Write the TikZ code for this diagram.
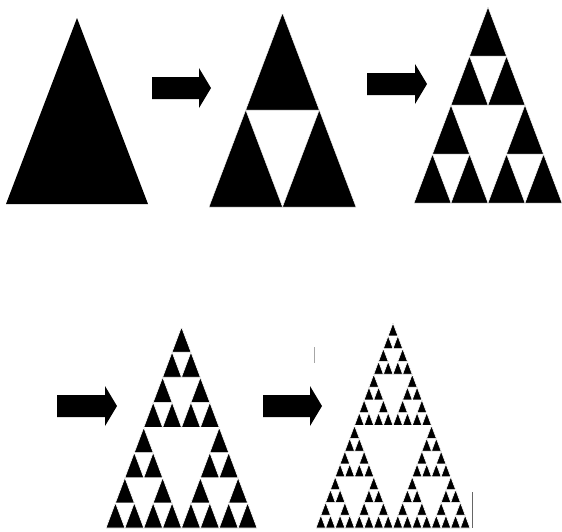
\documentclass[tikz,border=0pt]{standalone}
\tikzset{
  tri/.style={fill=black},
  bigarrow/.style={fill=black},
  artifact/.style={draw=black!60, line width=0.9pt}
}
% #1 level, #2 x of bottom-left, #3 y of bottom (pixel coords, y down), #4 width, #5 height
\def\sierp#1#2#3#4#5{%
  \ifnum#1=0
    \filldraw[tri] (#2,#3) -- ++(#4,0) -- ++({-(#4)/2},{-(#5)}) -- cycle;
  \else
    \begingroup
    \edef\spx{#2}\edef\spy{#3}\edef\spw{#4}\edef\sph{#5}%
    \pgfmathtruncatemacro\splv{#1-1}%
    \pgfmathsetmacro\sphw{\spw/2}%
    \pgfmathsetmacro\sphh{\sph/2}%
    \pgfmathsetmacro\spxa{\spx+\sphw}%
    \pgfmathsetmacro\spxb{\spx+\sphw/2}%
    \pgfmathsetmacro\spyb{\spy-\sphh}%
    \edef\spdo{%
      \noexpand\sierp{\splv}{\spx}{\spy}{\sphw}{\sphh}%
      \noexpand\sierp{\splv}{\spxa}{\spy}{\sphw}{\sphh}%
      \noexpand\sierp{\splv}{\spxb}{\spyb}{\sphw}{\sphh}}%
    \spdo
    \endgroup
  \fi}
\def\fatarrow#1#2#3{% left x, centre y, tip x
  \fill[bigarrow] (#1,#2-11) -- (#3-12,#2-11) -- (#3-12,#2-20) -- (#3,#2) -- (#3-12,#2+20) -- (#3-12,#2+11) -- (#1,#2+11) -- cycle;}
\begin{document}
\begin{tikzpicture}[x=1pt,y=-1pt]
  \useasboundingbox (0,0) rectangle (562,531);
  \fill[white] (0,0) rectangle (562,531);
  % row 1
  \begin{scope}[tri/.append style={draw=none}]
    \sierp{0}{6}{204}{142}{186}
  \end{scope}
  \fatarrow{152}{88}{211}
  \begin{scope}[tri/.append style={draw=white,line width=0.4pt}]
    \sierp{1}{209}{207}{147}{194}
  \end{scope}
  \fatarrow{367}{84}{427}
  \begin{scope}[tri/.append style={draw=white,line width=0.5pt}]
    \sierp{2}{414}{203}{148}{196}
  \end{scope}
  % row 2
  \fatarrow{57}{406}{117}
  \begin{scope}[tri/.append style={draw=white,line width=0.6pt}]
    \sierp{3}{106}{528}{151}{201}
  \end{scope}
  \fatarrow{263}{406}{322}
  \begin{scope}[tri/.append style={draw=white,line width=0.6pt}]
    \sierp{4}{316}{528}{154}{205}
  \end{scope}
  % small stray marks
  \draw[artifact, draw=black!35] (314,347) -- (314,363);
  \draw[artifact] (472,492) -- (472,528);
\end{tikzpicture}
\end{document}
